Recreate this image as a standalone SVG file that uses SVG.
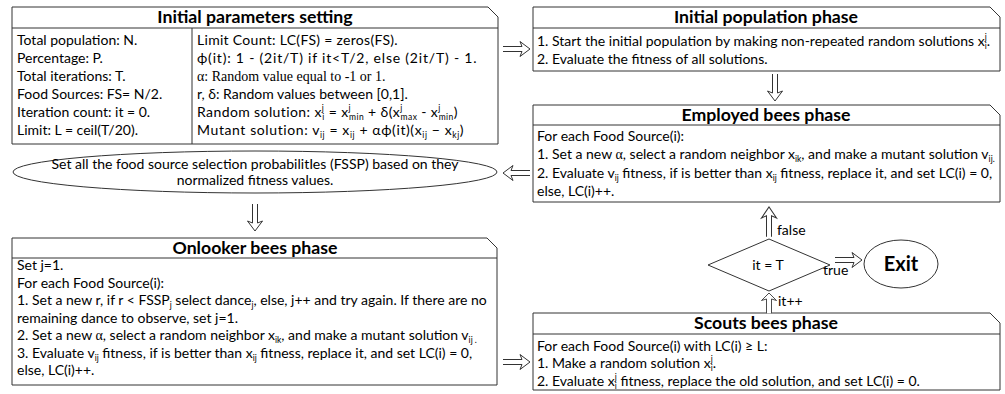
<svg xmlns="http://www.w3.org/2000/svg" xmlns:xlink="http://www.w3.org/1999/xlink" width="1005" height="394" viewBox="0 0 1005 394">
<style>
text{font-family:Lato,"Liberation Sans",sans-serif;font-size:14px;fill:#000}
.t{font-weight:bold;font-size:17.7px;text-anchor:middle}
.c{text-anchor:middle}
.s{font-family:"Liberation Serif",serif}
.sb{font-size:8.5px}
.box{fill:#fff;stroke:#333;stroke-width:1}
.ln{stroke:#333;stroke-width:1;fill:none}
.arr{fill:#fff;stroke:#333;stroke-width:1}
</style>
<defs>
<path id="dbl" d="M-27,-2.5H-8L-10,-7.5L0,0L-10,7.5L-8,2.5H-27"/>
</defs>
<rect width="1005" height="394" fill="#fff"/>

<g id="init-params">
<polygon class="box" points="12,7 488,7 498,17 498,144 12,144"/>
<line class="ln" x1="12" y1="28" x2="498" y2="28"/>
<line class="ln" x1="192" y1="28" x2="192" y2="144"/>
<text class="t" x="255" y="23">Initial parameters setting</text>
<text x="17" y="45">Total population: N.</text>
<text x="17" y="63">Percentage: P.</text>
<text x="17" y="81">Total iterations: T.</text>
<text x="17" y="99">Food Sources: FS= N/2.</text>
<text x="17" y="117">Iteration count: it = 0.</text>
<text x="17" y="135">Limit: L = ceil(T/20).</text>
<text x="197" y="45" letter-spacing="0.3">Limit Count: LC(FS) = zeros(FS).</text>
<text x="197" y="63" letter-spacing="0.8">ϕ(it): 1 - (2it/T) if it&lt;T/2, else (2it/T) - 1.</text>
<text x="197" y="81" class="s">α: Random value equal to -1 or 1.</text>
<text x="197" y="99">r, δ: Random values between [0,1].</text>
<text x="197" y="117" letter-spacing="0.4">Random solution: x<tspan class="sb" dy="-6">j</tspan><tspan class="sb" dx="-2" dy="9">i</tspan><tspan dy="-3"> = x</tspan><tspan class="sb" dy="-6">j</tspan><tspan class="sb" dx="-2" dy="9">min</tspan><tspan dy="-3"> + δ(x</tspan><tspan class="sb" dy="-6">j</tspan><tspan class="sb" dx="-2" dy="9">max</tspan><tspan dy="-3"> - x</tspan><tspan class="sb" dy="-6">j</tspan><tspan class="sb" dx="-2" dy="9">min</tspan><tspan dy="-3">)</tspan></text>
<text x="197" y="135" letter-spacing="0.6">Mutant solution: v<tspan class="sb" dy="3">ij</tspan><tspan dy="-3"> = x</tspan><tspan class="sb" dy="3">ij</tspan><tspan dy="-3"> + αϕ(it)(x</tspan><tspan class="sb" dy="3">ij</tspan><tspan dy="-3"> − x</tspan><tspan class="sb" dy="3">kj</tspan><tspan dy="-3">)</tspan></text>
</g>

<g id="init-pop">
<polygon class="box" points="533,7 990,7 1000,17 1000,71 533,71"/>
<line class="ln" x1="533" y1="28" x2="1000" y2="28"/>
<text class="t" x="766" y="23">Initial population phase</text>
<text x="537" y="46">1. Start the initial population by making non-repeated random solutions x<tspan class="sb" dy="-6">j</tspan><tspan class="sb" dx="-2" dy="9">i</tspan><tspan dy="-3">.</tspan></text>
<text x="537" y="64">2. Evaluate the fitness of all solutions.</text>
</g>

<g id="employed">
<polygon class="box" points="533,105 990,105 1000,115 1000,202 533,202"/>
<line class="ln" x1="533" y1="125" x2="1000" y2="125"/>
<text class="t" x="766" y="121">Employed bees phase</text>
<text x="537" y="141">For each Food Source(i):</text>
<text x="537" y="159">1. Set a new <tspan class="s">α</tspan>, select a random neighbor x<tspan class="sb" dy="3">ik</tspan><tspan dy="-3">, and make a mutant solution v</tspan><tspan class="sb" dy="3">ij.</tspan></text>
<text x="537" y="178">2. Evaluate v<tspan class="sb" dy="3">ij</tspan><tspan dy="-3"> fitness, if is better than x</tspan><tspan class="sb" dy="3">ij</tspan><tspan dy="-3"> fitness, replace it, and set LC(i) = 0,</tspan></text>
<text x="537" y="196">else, LC(i)++.</text>
</g>

<g id="fssp">
<ellipse class="box" cx="255" cy="172" rx="242" ry="21"/>
<text class="c" x="255" y="169">Set all the food source selection probabilitIes (FSSP) based on they</text>
<text class="c" x="255" y="185">normalized fitness values.</text>
</g>

<g id="onlooker">
<polygon class="box" points="12,238 487,238 497,248 497,385 12,385"/>
<line class="ln" x1="12" y1="258" x2="497" y2="258"/>
<text class="t" x="255" y="254">Onlooker bees phase</text>
<text x="17" y="270">Set j=1.</text>
<text x="17" y="288">For each Food Source(i):</text>
<text x="17" y="305">1. Set a new r, if r &lt;  FSSP<tspan class="sb" dy="3">j</tspan><tspan dy="-3"> select dance</tspan><tspan class="sb" dy="3">j</tspan><tspan dy="-3">, else, j++ and try again. If there are no</tspan></text>
<text x="17" y="323">remaining dance to observe, set j=1.</text>
<text x="17" y="340">2. Set a new <tspan class="s">α</tspan>, select a random neighbor x<tspan class="sb" dy="3">ik</tspan><tspan dy="-3">, and make a mutant solution v</tspan><tspan class="sb" dy="3">ij .</tspan></text>
<text x="17" y="358">3. Evaluate v<tspan class="sb" dy="3">ij</tspan><tspan dy="-3"> fitness, if is better than x</tspan><tspan class="sb" dy="3">ij</tspan><tspan dy="-3"> fitness, replace it, and set LC(i) = 0,</tspan></text>
<text x="17" y="375">else, LC(i)++.</text>
</g>

<g id="scouts">
<polygon class="box" points="533,313 990,313 1000,323 1000,390 533,390"/>
<line class="ln" x1="533" y1="334" x2="1000" y2="334"/>
<text class="t" x="766" y="329">Scouts bees phase</text>
<text x="537" y="351">For each Food Source(i) with LC(i) ≥ L:</text>
<text x="537" y="368">1. Make a random solution x<tspan class="sb" dy="-6">j</tspan><tspan class="sb" dx="-2" dy="8.5">i</tspan><tspan dy="-2.5">.</tspan></text>
<text x="537" y="386">2. Evaluate x<tspan class="sb" dy="-6">j</tspan><tspan class="sb" dx="-2" dy="8.5">i</tspan><tspan dy="-2.5">  fitness, replace the old solution, and set LC(i) = 0.</tspan></text>
</g>

<g id="decision">
<polygon class="box" points="769,239 830,265 769,291 708,265"/>
<text class="c" x="768" y="270">it = T</text>
</g>

<g id="exit">
<ellipse class="box" cx="901" cy="264" rx="37" ry="24"/>
<text class="t" x="901" y="271" style="font-size:20px">Exit</text>
</g>

<g id="connectors">
<use xlink:href="#dbl" class="arr" transform="translate(530,49)"/>
<use xlink:href="#dbl" class="arr" transform="translate(775,101) rotate(90)"/>
<use xlink:href="#dbl" class="arr" transform="translate(503,173) rotate(180)"/>
<use xlink:href="#dbl" class="arr" transform="translate(255,231) rotate(90)"/>
<use xlink:href="#dbl" class="arr" transform="translate(530,362)"/>
<use xlink:href="#dbl" class="arr" transform="translate(769,293) rotate(-90) scale(0.75,1)"/>
<use xlink:href="#dbl" class="arr" transform="translate(769,207) rotate(-90) scale(1.1,1)"/>
<use xlink:href="#dbl" class="arr" transform="translate(862,260)"/>
<text x="777" y="235">false</text>
<text x="778" y="306">it++</text>
<text x="823" y="275">true</text>
</g>
</svg>
